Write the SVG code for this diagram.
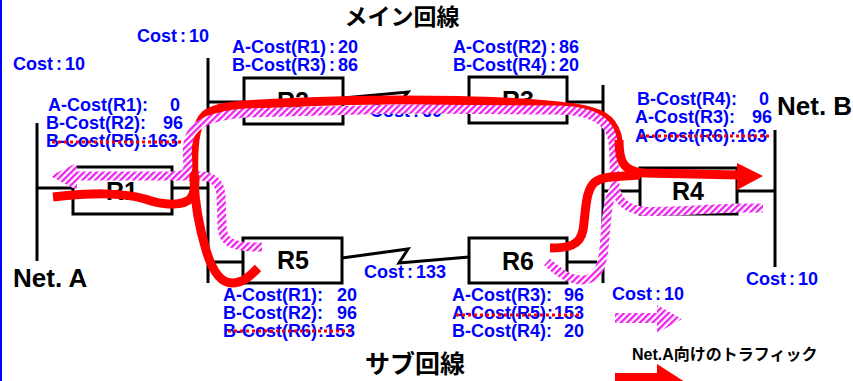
<svg xmlns="http://www.w3.org/2000/svg" width="853" height="381" viewBox="0 0 853 381">
<style>
.ln{stroke:#000;stroke-width:3;fill:none}
.box{fill:#fff;stroke:#000;stroke-width:3}
.rt{font-family:"Liberation Sans",Arial,sans-serif;font-weight:bold;font-size:25px;fill:#000;text-anchor:middle}
.bl{font-family:"Liberation Sans",Arial,sans-serif;font-weight:bold;font-size:18px;fill:#0000ff}
.net{font-family:"Liberation Sans",Arial,sans-serif;font-weight:bold;font-size:26px;fill:#000}
.jp{font-family:"Liberation Sans","Noto Sans CJK JP",sans-serif;font-weight:bold;fill:#000}
.e{text-anchor:end}
.strike{stroke:#ff0000;stroke-width:3;stroke-dasharray:3 3;fill:none}
.red{stroke:#ff0000;stroke-width:9;fill:none;stroke-linejoin:round}
.mag{stroke:url(#hatch);stroke-width:9;fill:none;stroke-linejoin:round}
</style>
<defs>
<pattern id="hatch" width="4.5" height="4.5" patternUnits="userSpaceOnUse" patternTransform="rotate(45)">
<rect width="4.5" height="4.5" fill="#fff"/>
<rect width="2.3" height="4.5" fill="#ee22ee"/>
</pattern>
</defs>
<rect x="0" y="0" width="2" height="381" fill="#0000ff"/>

<g id="connectors">
<line class="ln" x1="37" y1="188" x2="73" y2="188"/>
<line class="ln" x1="172" y1="188" x2="208" y2="188"/>
<line class="ln" x1="208" y1="58" x2="208" y2="283"/>
<line class="ln" x1="208" y1="102" x2="244" y2="102"/>
<line class="ln" x1="208" y1="262" x2="243" y2="262"/>
<polyline class="ln" points="343,98 408,92 401,101 469,99"/>
<polyline class="ln" points="342,258 408,249 399,263 469,257"/>
<line class="ln" x1="603" y1="85" x2="603" y2="283"/>
<line class="ln" x1="567" y1="102" x2="603" y2="102"/>
<line class="ln" x1="567" y1="262" x2="603" y2="262"/>
<line class="ln" x1="603" y1="191" x2="640" y2="191"/>
<line class="ln" x1="737" y1="191" x2="775" y2="191"/>
<text class="bl" x="137" y="42">Cost<tspan dx="3">:</tspan><tspan dx="3">10</tspan></text>
<text class="bl" x="370" y="117">Cost<tspan dx="3">:</tspan><tspan dx="3">60</tspan></text>
<text class="bl" x="364" y="278">Cost<tspan dx="3">:</tspan><tspan dx="3">133</tspan></text>
<text class="bl" x="612" y="300">Cost<tspan dx="3">:</tspan><tspan dx="3">10</tspan></text>
</g>

<g id="NetA">
<line class="ln" x1="37" y1="123" x2="37" y2="261"/>
<text class="net" x="13" y="287">Net. A</text>
<text class="bl" x="13" y="70">Cost<tspan dx="3">:</tspan><tspan dx="3">10</tspan></text>
</g>
<g id="NetB">
<line class="ln" x1="775" y1="130" x2="775" y2="267"/>
<text class="net" x="777" y="115">Net. B</text>
<text class="bl" x="746" y="285">Cost<tspan dx="3">:</tspan><tspan dx="3">10</tspan></text>
</g>

<g id="R1">
<rect class="box" x="73" y="167" width="99" height="47"/>
<text class="rt" x="122" y="200">R1</text>
<text class="bl"><tspan x="48" y="111">A-Cost(R1):</tspan><tspan x="180" y="111" class="e">0</tspan></text>
<text class="bl"><tspan x="46" y="129">B-Cost(R2):</tspan><tspan x="183" y="129" class="e">96</tspan></text>
<text class="bl" x="46" y="147">B-Cost(R5)<tspan dx="1">:</tspan><tspan dx="1">163</tspan></text>
<line class="strike" x1="52" y1="142" x2="181" y2="142"/>
</g>
<g id="R2">
<rect class="box" x="244" y="78" width="99" height="46"/>
<text class="rt" x="293" y="110">R2</text>
<text class="bl" x="232" y="53">A-Cost(R1)<tspan dx="3">:</tspan><tspan dx="3">20</tspan></text>
<text class="bl" x="232" y="71">B-Cost(R3)<tspan dx="3">:</tspan><tspan dx="3">86</tspan></text>
</g>
<g id="R3">
<rect class="box" x="469" y="77" width="98" height="46"/>
<text class="rt" x="518" y="109">R3</text>
<text class="bl" x="453" y="53">A-Cost(R2)<tspan dx="3">:</tspan><tspan dx="3">86</tspan></text>
<text class="bl" x="453" y="71">B-Cost(R4)<tspan dx="3">:</tspan><tspan dx="3">20</tspan></text>
</g>
<g id="R4">
<rect class="box" x="640" y="168" width="97" height="46"/>
<text class="rt" x="688" y="200">R4</text>
<text class="bl"><tspan x="637" y="105">B-Cost(R4):</tspan><tspan x="769" y="105" class="e">0</tspan></text>
<text class="bl"><tspan x="635" y="123">A-Cost(R3):</tspan><tspan x="772" y="123" class="e">96</tspan></text>
<text class="bl" x="635" y="142">A-Cost(R6)<tspan dx="1">:</tspan><tspan dx="1">163</tspan></text>
<line class="strike" x1="640" y1="136" x2="770" y2="136"/>
</g>
<g id="R5">
<rect class="box" x="243" y="238" width="99" height="45"/>
<text class="rt" x="293" y="269">R5</text>
<text class="bl"><tspan x="223" y="301">A-Cost(R1):</tspan><tspan x="357" y="301" class="e">20</tspan></text>
<text class="bl"><tspan x="223" y="319">B-Cost(R2):</tspan><tspan x="357" y="319" class="e">96</tspan></text>
<text class="bl" x="223" y="337">B-Cost(R6)<tspan dx="1">:</tspan><tspan dx="1">153</tspan></text>
<line class="strike" x1="228" y1="331" x2="353" y2="331"/>
</g>
<g id="R6">
<rect class="box" x="469" y="238" width="98" height="45"/>
<text class="rt" x="518" y="270">R6</text>
<text class="bl"><tspan x="452" y="301">A-Cost(R3):</tspan><tspan x="584" y="301" class="e">96</tspan></text>
<text class="bl" x="452" y="319">A-Cost(R5)<tspan dx="1">:</tspan><tspan dx="1">153</tspan></text>
<line class="strike" x1="456" y1="315" x2="582" y2="315"/>
<text class="bl"><tspan x="452" y="337">B-Cost(R4):</tspan><tspan x="584" y="337" class="e">20</tspan></text>
</g>

<g id="traffic">
<path class="mag" d="M547,262 C556,270 566,279 580,280 C597,281 602,268 604,248 L607,215 C608,205 610,195 615,187"/>
<path class="mag" d="M262,247 C228,248 222,240 222,225 L221,195 C220,182 212,176 200,176 L76,176"/>
<polygon points="77,163 50,176 77,190" fill="url(#hatch)"/>
<path class="red" d="M53,197 C90,193 120,192 145,199 C165,206 184,206 191,198 C195,192 195,185 195,175"/>
<path class="red" d="M258,268 C250,276 243,283 232,283 C220,283 212,270 206,250 C200,230 195,205 194,180 C193,150 194,125 205,115 C215,107 235,105 260,104 C320,101 360,100 400,100 C470,100 540,103 575,108 C600,112 612,118 617,135 C619,145 619,155 619,160"/>
<path class="mag" d="M763,208 L740,208 C700,209 660,213 643,211 C628,209 618,203 615,187 L614,160 C614,140 612,128 600,120 C590,113 575,110 555,110 L400,109 L245,113 C220,115 200,120 192,132 C186,142 187,155 188,166 C188,173 184,176 172,176"/>
<path class="red" d="M550,248 C568,248 580,246 583,230 C586,212 585,190 595,182 C603,176 615,177 640,175"/>
<path class="red" d="M619,140 C619,160 622,172 645,173 L740,175"/>
<polygon points="737,163 763,176 737,190" fill="#ff0000"/>
</g>

<g id="title">
<text class="jp" x="402" y="25" font-size="23" text-anchor="middle">メイン回線</text>
<text class="jp" x="415" y="373" font-size="25" text-anchor="middle">サブ回線</text>
</g>

<g id="legend">
<rect x="615" y="313" width="43" height="10" fill="url(#hatch)"/>
<polygon points="657,305 682,319 657,333" fill="url(#hatch)"/>
<text class="jp" x="632" y="360" font-size="16">Net.A向けのトラフィック</text>
<polygon points="615,373 657,373 657,364 685,382 657,400 657,391 615,391" fill="#ff0000"/>
</g>
</svg>
